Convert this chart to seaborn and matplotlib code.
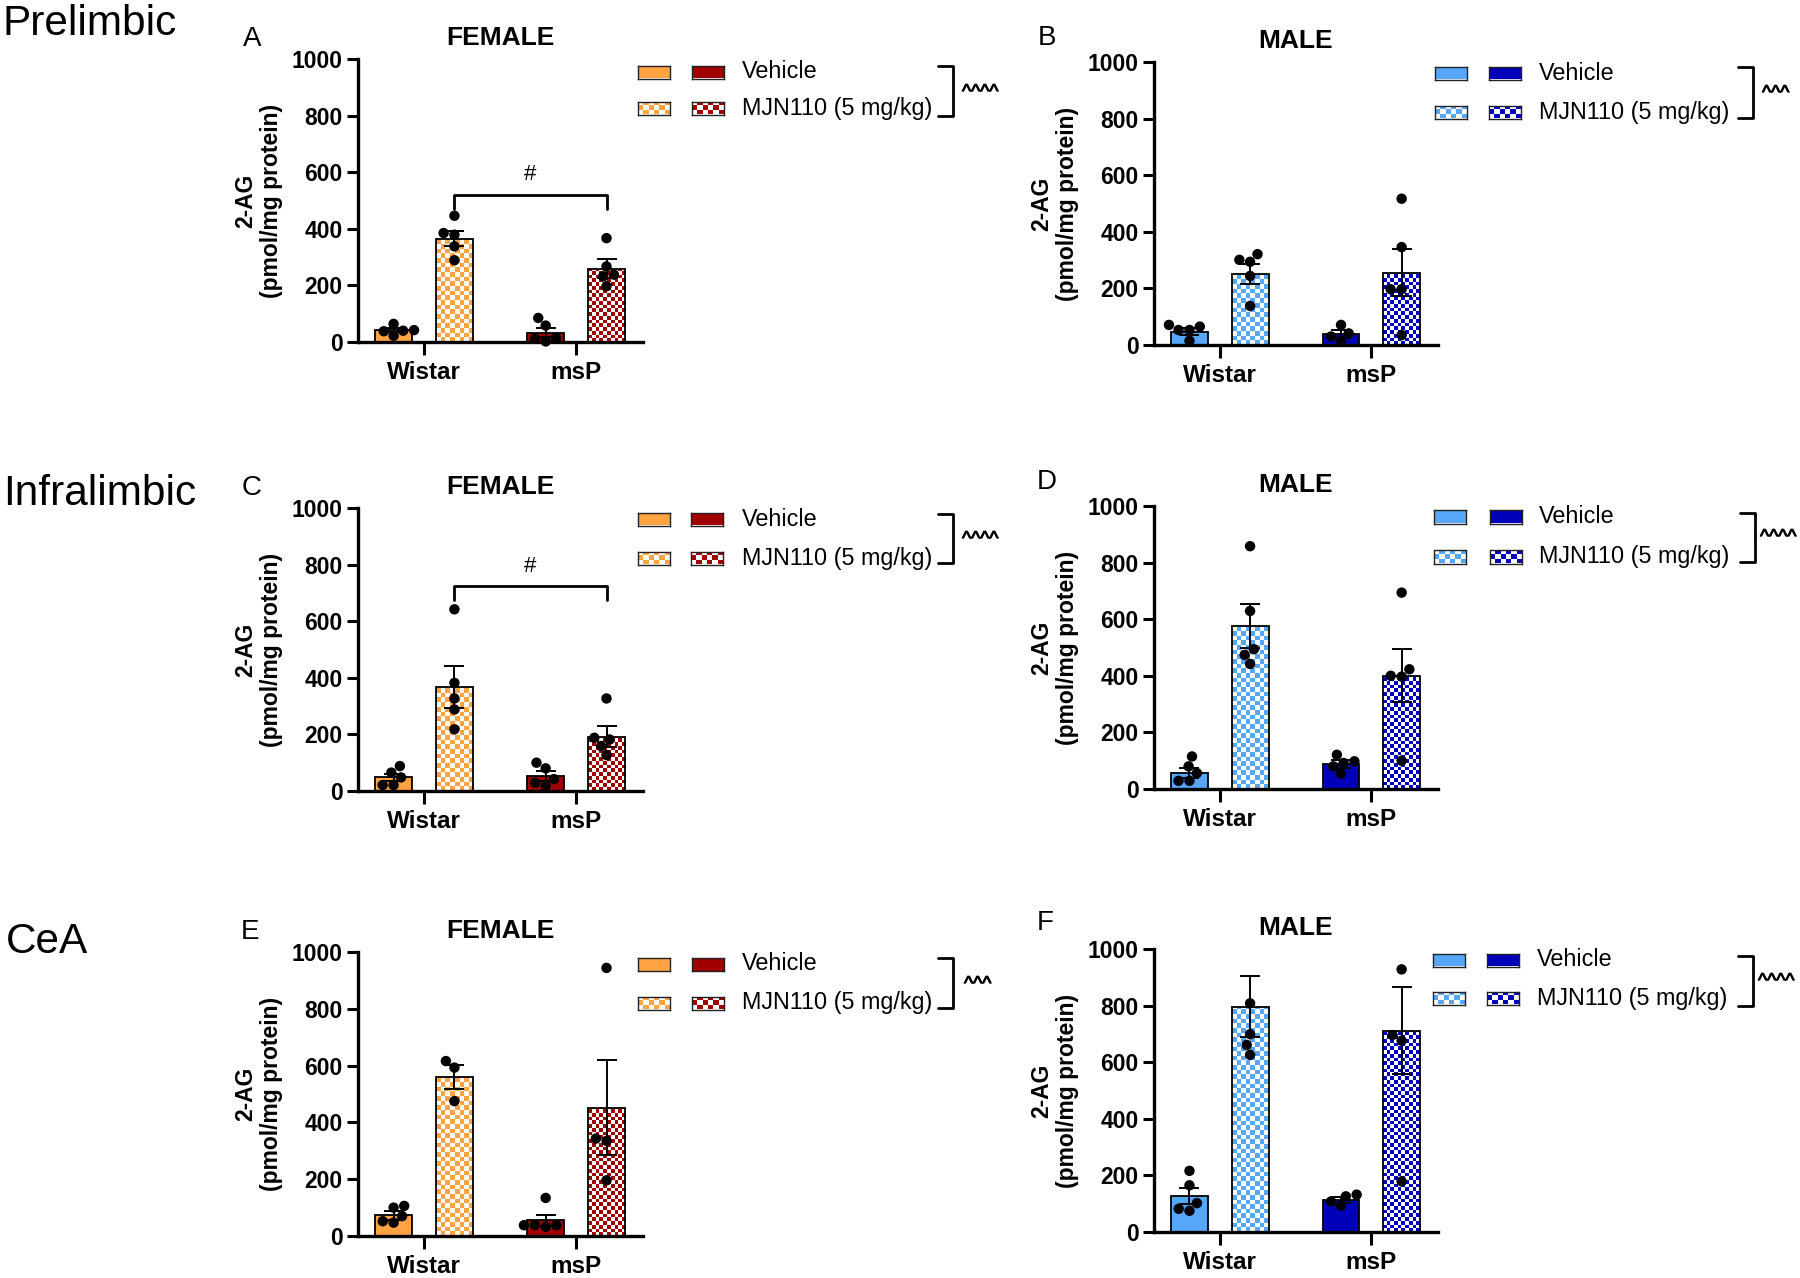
import numpy as np
import pandas as pd
import matplotlib
matplotlib.use("Agg")
import matplotlib.pyplot as plt
import matplotlib.patheffects as pe
import seaborn as sns
from matplotlib.colors import to_rgb
from matplotlib.lines import Line2D

# ---------------- data ----------------
strains = ["Wistar", "msP"]
treatments = ["Vehicle", "MJN110 (5 mg/kg)"]
regions = ["Prelimbic", "Infralimbic", "CeA"]
panel_letters = ["A", "B", "C", "D", "E", "F"]
panel_titles = ["FEMALE", "MALE", "FEMALE", "MALE", "FEMALE", "MALE"]
sig_marks = ["^^^^", "^^^", "^^^^", "^^^^", "^^^", "^^^^"]

# means / SEM in order: Wistar-Vehicle, Wistar-MJN, msP-Vehicle, msP-MJN
means_A = [43, 365, 33, 259]
sem_A = [6, 27, 16, 33]
means_B = [47, 251, 39, 256]
sem_B = [12, 35, 14, 82]
means_C = [48, 368, 54, 192]
sem_C = [12, 74, 17, 37]
means_D = [56, 577, 89, 400]
sem_D = [18, 78, 14, 94]
means_E = [73, 560, 55, 452]
sem_E = [16, 43, 20, 168]
means_F = [126, 796, 114, 711]
sem_F = [28, 107, 11, 154]

pts_A = [[64, 22, 42, 38, 40], [446, 379, 385, 338, 289],
         [85, 58, 2, 14, 11], [367, 267, 238, 232, 197]]
pts_B = [[71, 53, 65, 53, 15], [301, 321, 294, 244, 138],
         [71, 41, 15, 30], [517, 346, 197, 197, 35]]
pts_C = [[88, 48, 65, 21, 21], [642, 382, 327, 288, 218],
         [100, 80, 42, 18, 29], [327, 188, 182, 159, 127]]
pts_D = [[115, 80, 56, 29, 29], [858, 629, 494, 474, 442],
         [121, 98, 92, 80, 54], [694, 400, 423, 397, 100]]
pts_E = [[106, 100, 70, 47, 52], [616, 593, 475],
         [134, 32, 38, 38, 38], [944, 343, 335, 196]]
pts_F = [[216, 165, 102, 75, 82], [808, 699, 661, 626],
         [132, 126, 108, 93], [928, 696, 676, 179]]

# significance bracket (female panels A and C): (bracket top, leg bottom, label y)
bracket_A = (521, 470, 591)
bracket_C = (724, 674, 794)

# ---------------- style ----------------
ORANGE = "#FFA343"
DARKRED = "#A00000"
LIGHTBLUE = "#56A6FA"
DARKBLUE = "#0000BB"

W, H = 1800, 1278
sns.set_theme(style="ticks")
plt.rcParams["font.family"] = ["Liberation Sans", "DejaVu Sans"]
plt.rcParams["text.color"] = "black"
plt.rcParams["axes.labelcolor"] = "black"
plt.rcParams["xtick.color"] = "black"
plt.rcParams["ytick.color"] = "black"

fig = plt.figure(figsize=(W / 100, H / 100), dpi=100)


def fx(px):
    return px / W


def fy(py):
    return 1 - py / H


def checker_rgb(nrows, ncols, color):
    grid = np.indices((nrows, ncols)).sum(axis=0) % 2
    c = np.array(to_rgb(color))
    return np.where(grid[..., None] == 1, c, np.ones(3))


panels = [
    dict(means=means_A, sem=sem_A, pts=pts_A, cols=(ORANGE, DARKRED), box=(358, 59, 643, 342), bracket=bracket_A),
    dict(means=means_B, sem=sem_B, pts=pts_B, cols=(LIGHTBLUE, DARKBLUE), box=(1154, 62, 1438, 345), bracket=None),
    dict(means=means_C, sem=sem_C, pts=pts_C, cols=(ORANGE, DARKRED), box=(358, 508, 643, 791), bracket=bracket_C),
    dict(means=means_D, sem=sem_D, pts=pts_D, cols=(LIGHTBLUE, DARKBLUE), box=(1154, 506, 1438, 789), bracket=None),
    dict(means=means_E, sem=sem_E, pts=pts_E, cols=(ORANGE, DARKRED), box=(358, 952, 643, 1236), bracket=None),
    dict(means=means_F, sem=sem_F, pts=pts_F, cols=(LIGHTBLUE, DARKBLUE), box=(1154, 949, 1438, 1232), bracket=None),
]

# legend layout per panel: patch1 x, patch2 x, row1 y, row2 y, text x, bracket x right, bracket top, bottom, caret x, caret y
legend_pos = [
    (638, 692, 72, 108, 742, 953, 66, 116, 962, 88),
    (1435, 1489, 73, 112, 1539, 1753, 67, 118, 1762, 89),
    (638, 691, 519, 558, 742, 953, 514, 563, 962, 535),
    (1434, 1490, 517, 557, 1539, 1755, 513, 562, 1760, 533),
    (638, 692, 964, 1003, 742, 953, 958, 1008, 964, 980),
    (1433, 1487, 960, 998, 1537, 1753, 956, 1006, 1758, 977),
]
letter_pos = [(252, 39), (1047, 38), (252, 488), (1047, 482), (250, 932), (1045, 923)]
region_pos = [(3, 24), (3, 494), (6, 942)]

order_keys = [("Wistar", "Vehicle"), ("Wistar", "MJN110 (5 mg/kg)"),
              ("msP", "Vehicle"), ("msP", "MJN110 (5 mg/kg)")]

for i, p in enumerate(panels):
    x0, y0, x1, y1 = p["box"]
    ax = fig.add_axes([fx(x0), fy(y1), fx(x1 - x0), (y1 - y0) / H])

    mdf = pd.DataFrame({"strain": [k[0] for k in order_keys],
                        "treatment": [k[1] for k in order_keys],
                        "mean": p["means"], "sem": p["sem"]})
    rows = []
    for (s, t), vals in zip(order_keys, p["pts"]):
        for v in vals:
            rows.append({"strain": s, "treatment": t, "value": v})
    pdf = pd.DataFrame(rows)

    sns.barplot(data=mdf, x="strain", y="mean", hue="treatment", order=strains,
                hue_order=treatments, errorbar=None, width=0.8, gap=0.39,
                palette=["white", "white"], legend=False, ax=ax)

    # pixel scale for square checker cells
    px_per_x = (x1 - x0) / (1.44 + 0.434)
    px_per_y = (y1 - y0) / 1000.0

    centers, heights, sems = [], [], []
    for patch in list(ax.patches):
        cx = patch.get_x() + patch.get_width() / 2
        si = int(round(cx))
        is_mjn = cx > si
        strain = strains[si]
        treat = treatments[1 if is_mjn else 0]
        row = mdf[(mdf.strain == strain) & (mdf.treatment == treat)].iloc[0]
        color = p["cols"][si]
        patch.set_edgecolor("black")
        patch.set_linewidth(1.3)
        patch.set_zorder(2)
        if is_mjn:
            patch.set_facecolor("none")
            hgt = patch.get_height()
            ncols = 8 if si == 0 else 10
            cell_px = patch.get_width() * px_per_x / ncols
            cell_y = cell_px / px_per_y
            nrows = max(1, int(np.ceil(hgt / cell_y)))
            im = ax.imshow(checker_rgb(nrows, ncols, color),
                           extent=(patch.get_x(), patch.get_x() + patch.get_width(), 0, nrows * cell_y),
                           origin="lower", aspect="auto", interpolation="nearest", zorder=1.5)
            im.set_clip_path(patch)
        else:
            patch.set_facecolor(color)
        centers.append(cx)
        heights.append(patch.get_height())
        sems.append(row["sem"])

    ax.errorbar(centers, heights, yerr=sems, fmt="none", ecolor="black",
                elinewidth=1.4, capsize=7.5, capthick=1.4, zorder=3)

    sns.swarmplot(data=pdf, x="strain", y="value", hue="treatment", order=strains,
                  hue_order=treatments, dodge=True, palette=["black", "black"],
                  size=7.5, legend=False, ax=ax, zorder=4)
    for coll in ax.collections:
        coll.set_clip_on(False)

    ax.set_xlim(-0.434, 1.44)
    ax.set_ylim(0, 1000)
    ax.set_yticks([0, 200, 400, 600, 800, 1000])
    ax.set_yticklabels(["0", "200", "400", "600", "800", "1000"])
    ax.set_xticks([0, 1])
    ax.set_xticklabels(strains)
    for lab in ax.get_yticklabels():
        lab.set_fontweight("bold")
        lab.set_fontsize(16.5)
    for lab in ax.get_xticklabels():
        lab.set_fontweight("bold")
        lab.set_fontsize(17.5)
    ax.tick_params(axis="y", length=8, width=2.2, pad=3, colors="black")
    ax.tick_params(axis="x", length=9, width=2.2, pad=5, colors="black")
    sns.despine(ax=ax)
    for sp in ["left", "bottom"]:
        ax.spines[sp].set_linewidth(2.4)
        ax.spines[sp].set_color("black")
    ax.set_xlabel("")
    ax.set_ylabel("2-AG\n(pmol/mg protein)", fontsize=16.5, fontweight="bold",
                  linespacing=1.15, labelpad=6)
    ax.set_title(panel_titles[i], fontsize=19, fontweight="bold", pad=10)
    ax.patch.set_alpha(0)

    if p["bracket"] is not None:
        top, leg, ylab = p["bracket"]
        srt = sorted(centers)
        xa, xb = srt[1], srt[3]
        ax.plot([xa, xa, xb, xb], [leg, top, top, leg], color="black", lw=2.0,
                clip_on=False, zorder=5)
        ax.text((xa + xb) / 2, ylab, "#", ha="center", va="center", fontsize=16)

    # panel letter
    lx, ly = letter_pos[i]
    fig.text(fx(lx), fy(ly), panel_letters[i], ha="center", va="center", fontsize=20)

    # legend
    p1x, p2x, r1, r2, tx, bxr, bt, bb, cx_, cy_ = legend_pos[i]
    pw, ph = 32, 13
    for px_, col in zip((p1x, p2x), p["cols"]):
        lax = fig.add_axes([fx(px_), fy(r1 + ph / 2), fx(pw), ph / H])
        lax.imshow(np.ones((1, 1, 3)) * np.array(to_rgb(col)), aspect="auto")
        lax.set_xticks([]); lax.set_yticks([])
        for sp in lax.spines.values():
            sp.set_linewidth(1.0); sp.set_color("#222222")
        lax2 = fig.add_axes([fx(px_), fy(r2 + ph / 2), fx(pw), ph / H])
        lax2.imshow(checker_rgb(3, 6, col), aspect="auto", interpolation="nearest")
        lax2.set_xticks([]); lax2.set_yticks([])
        for sp in lax2.spines.values():
            sp.set_linewidth(1.0); sp.set_color("#222222")
    fig.text(fx(tx), fy(r1), treatments[0], ha="left", va="center", fontsize=16.8)
    fig.text(fx(tx), fy(r2), treatments[1], ha="left", va="center", fontsize=16.8)
    fig.add_artist(Line2D([fx(bxr - 15), fx(bxr), fx(bxr), fx(bxr - 15)],
                          [fy(bt), fy(bt), fy(bb), fy(bb)], color="black", lw=2.0))
    fig.text(fx(cx_), fy(cy_ + 5), sig_marks[i], ha="left", va="center", fontsize=14,
             path_effects=[pe.withStroke(linewidth=0.7, foreground="black")])

for name, (rx, ry) in zip(regions, region_pos):
    fig.text(fx(rx), fy(ry), name, ha="left", va="center", fontsize=30.5)

fig.savefig("out.png", dpi=100, facecolor="white")
